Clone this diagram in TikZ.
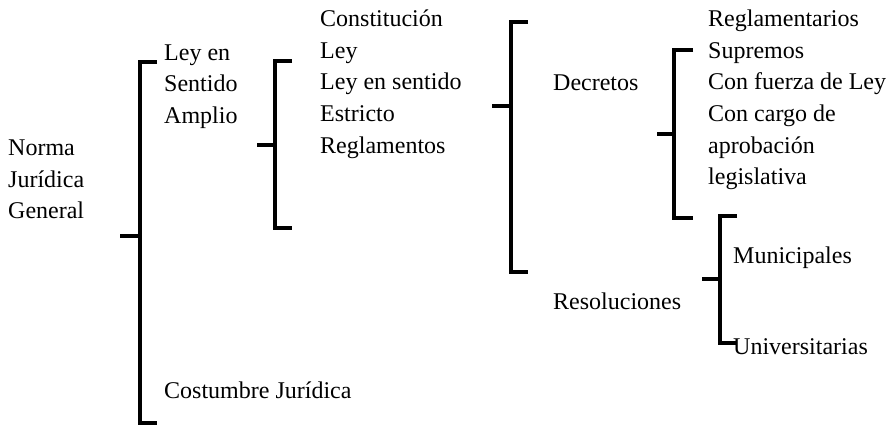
\documentclass[tikz,border=0pt]{standalone}
\usepackage{fontspec}
\setmainfont{Liberation Serif}
\begin{document}
\begin{tikzpicture}[x=1pt,y=-1pt]

\tikzstyle{label}=[anchor=base west,inner sep=0pt,align=left,font=\fontsize{24}{31.6}\selectfont]
\tikzstyle{bracket}=[line width=3.6pt]

\useasboundingbox (0,0) rectangle (892,426);

% multi-line labels: y is the baseline of the last line
\node[label](norma)at(8,218.7){Norma\\Jurídica\\General};
\node[label](amplio)at(164,123.2){Ley en\\Sentido\\Amplio};
\node[label](costumbre)at(164,398){Costumbre Jurídica};
\node[label](fuentes)at(320,153.1){Constitución\\Ley\\Ley en sentido\\Estricto\\Reglamentos};
\node[label](decretos)at(553,90.7){Decretos};
\node[label](resoluciones)at(553,309){Resoluciones};
\node[label](tipos)at(708,184.7){Reglamentarios\\Supremos\\Con fuerza de Ley\\Con cargo de\\aprobación\\legislativa};
\node[label](municipales)at(733,263){Municipales};
\node[label](universitarias)at(733,354){Universitarias};

% bracket ends
\coordinate(a-in)at(120,236);
\coordinate(a-top)at(157,62);
\coordinate(a-bot)at(157,423);
\coordinate(b-in)at(257,145);
\coordinate(b-top)at(292,61);
\coordinate(b-bot)at(292,228);
\coordinate(c-in)at(492,106);
\coordinate(c-top)at(528,22);
\coordinate(c-bot)at(528,272);
\coordinate(d-in)at(657,134);
\coordinate(d-top)at(693,50);
\coordinate(d-bot)at(693,218);
\coordinate(e-in)at(702,279);
\coordinate(e-top)at(737,216);
\coordinate(e-bot)at(737,343);

\draw[bracket](a-top)--++(-17,0)|-(a-bot);
\draw[bracket](a-in)--++(20,0);
\draw[bracket](b-top)--++(-17,0)|-(b-bot);
\draw[bracket](b-in)--++(18,0);
\draw[bracket](c-top)--++(-17,0)|-(c-bot);
\draw[bracket](c-in)--++(19,0);
\draw[bracket](d-top)--++(-19,0)|-(d-bot);
\draw[bracket](d-in)--++(17,0);
\draw[bracket](e-top)--++(-17,0)|-(e-bot);
\draw[bracket](e-in)--++(18,0);

\end{tikzpicture}
\end{document}
